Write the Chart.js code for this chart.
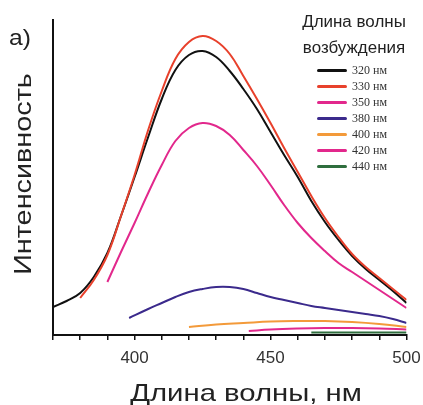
<!DOCTYPE html>
<html>
<head>
<meta charset="utf-8">
<script src="https://cdn.jsdelivr.net/npm/chart.js@4"></script>
<style>
  body { margin: 0; background: #fff; }
  #wrap { position: relative; width: 423px; height: 405px; }
  .txt { position: absolute; font-family: "Liberation Sans", Arial, sans-serif; color: #222; white-space: nowrap; }
  #panel { left: 9px; top: 25px; font-size: 22px; transform: scaleX(1.12); transform-origin: left center; }
  #xTitle { left: 246px; top: 393px; font-size: 24px; line-height: 24px; transform: translate(-50%, -50%) scaleX(1.22); }
  #yTitle { left: 23px; top: 174px; font-size: 24px; line-height: 24px; transform: translate(-50%, -50%) rotate(-90deg) scaleX(1.2); }
  #legendTitle { left: 292px; top: 9px; width: 124px; text-align: center; font-size: 16px; line-height: 26px; transform: scaleX(1.06); }
  #legend { position: absolute; left: 317px; top: 62px; }
  .item { height: 16px; display: flex; align-items: center; }
  .swatch { width: 30px; height: 3px; border-radius: 2px; margin-right: 5px; }
  .lbl { font: 12px "Liberation Serif", "Times New Roman", serif; color: #333; }
</style>
</head>
<body>
<div id="wrap">
  <canvas id="chart" width="423" height="405"></canvas>
  <div id="panel" class="txt">а)</div>
  <div id="yTitle" class="txt">Интенсивность</div>
  <div id="xTitle" class="txt">Длина волны, нм</div>
  <div id="legendTitle" class="txt">Длина волны<br>возбуждения</div>
  <div id="legend"></div>
</div>
<script>
// excitation wavelengths (legend)
const labels = ['320 нм', '330 нм', '350 нм', '380 нм', '400 нм', '420 нм', '440 нм'];
const colors = ['#111111', '#e8412c', '#e2288c', '#3b2a8c', '#f39a3a', '#e2288c', '#2f6e3e'];

// emission wavelength (nm) and intensity for each curve
const x320 = [370, 375, 380, 385, 390, 395, 400, 405, 410, 415, 420, 425, 430, 435, 440, 445, 450, 455, 460, 465, 470, 475, 480, 485, 490, 495, 500];
const y320 = [28, 34, 42, 58, 82, 119, 158, 198, 236, 265, 280, 284, 278, 264, 246, 226, 203, 180, 158, 134, 113, 95, 79, 66, 55, 44, 32];

const x330 = [380, 385, 390, 395, 400, 405, 410, 415, 420, 425, 430, 435, 440, 445, 450, 455, 460, 465, 470, 475, 480, 485, 490, 495, 500];
const y330 = [37, 55, 80, 119, 160, 205, 244, 276, 293, 299, 294, 281, 259, 236, 212, 187, 163, 139, 117, 98, 81, 68, 57, 46, 35];

const x350 = [390, 395, 400, 405, 410, 415, 420, 425, 430, 435, 440, 445, 450, 455, 460, 465, 470, 475, 480, 485, 490, 495, 500];
const y350 = [53, 83, 112, 142, 170, 194, 207, 212, 209, 200, 185, 169, 150, 130, 112, 97, 84, 72, 63, 54, 45, 36, 27];

const x380 = [398, 405, 410, 415, 420, 425, 430, 435, 440, 445, 450, 455, 460, 465, 470, 475, 480, 485, 490, 495, 500];
const y380 = [17, 26, 32, 38, 43, 46, 48, 48, 46, 42, 38, 35, 32, 29, 27, 25, 23, 21, 19, 16, 12];

const x400 = [420, 430, 440, 450, 460, 470, 480, 490, 500];
const y400 = [8, 10.5, 12, 13.5, 14, 14, 13, 11, 8];

const x420 = [442, 450, 460, 470, 480, 490, 500];
const y420 = [4, 5.5, 6.5, 7, 7, 6.5, 5.5];

const x440 = [465, 475, 485, 500];
const y440 = [2.5, 2.6, 2.6, 2.5];

const xTickLabels = [400, 450, 500];

const seriesX = [x320, x330, x350, x380, x400, x420, x440];
const seriesY = [y320, y330, y350, y380, y400, y420, y440];

const datasets = labels.map((lab, i) => ({
    label: lab,
    data: seriesX[i].map((x, j) => ({ x: x, y: seriesY[i][j] })),
    borderColor: colors[i],
    borderWidth: 2,
    pointRadius: 0,
    tension: 0.4,
    fill: false,
    order: i === 0 ? 1 : 0
}));

// build the legend from the same arrays
const legend = document.getElementById('legend');
labels.forEach((lab, i) => {
    const row = document.createElement('div');
    row.className = 'item';
    row.innerHTML = '<span class="swatch" style="background:' + colors[i] + '"></span><span class="lbl">' + lab + '</span>';
    legend.appendChild(row);
});

new Chart(document.getElementById('chart'), {
    type: 'line',
    data: { datasets: datasets },
    options: {
        responsive: false,
        animation: false,
        layout: { padding: { top: 20, right: 0, left: 0, bottom: 0 } },
        plugins: { legend: { display: false }, tooltip: { enabled: false } },
        scales: {
            x: {
                type: 'linear',
                min: 370,
                max: 500,
                ticks: {
                    stepSize: 10,
                    autoSkip: false,
                    maxRotation: 0,
                    padding: 8,
                    color: '#333',
                    font: { family: '"Liberation Sans", Arial, sans-serif', size: 17 },
                    callback: v => xTickLabels.includes(v) ? String(v) : ''
                },
                grid: { drawOnChartArea: false, color: '#111', lineWidth: 1.5, tickLength: 5 },
                border: { color: '#111', width: 2 },
                afterFit: s => { s.height = 70; s.paddingLeft = 0; s.paddingRight = 16.5; }
            },
            y: {
                min: 0,
                max: 315,
                ticks: { display: false },
                grid: { drawOnChartArea: false, drawTicks: false },
                border: { color: '#111', width: 2 },
                afterFit: s => { s.width = 53; }
            }
        }
    }
});
</script>
</body>
</html>
